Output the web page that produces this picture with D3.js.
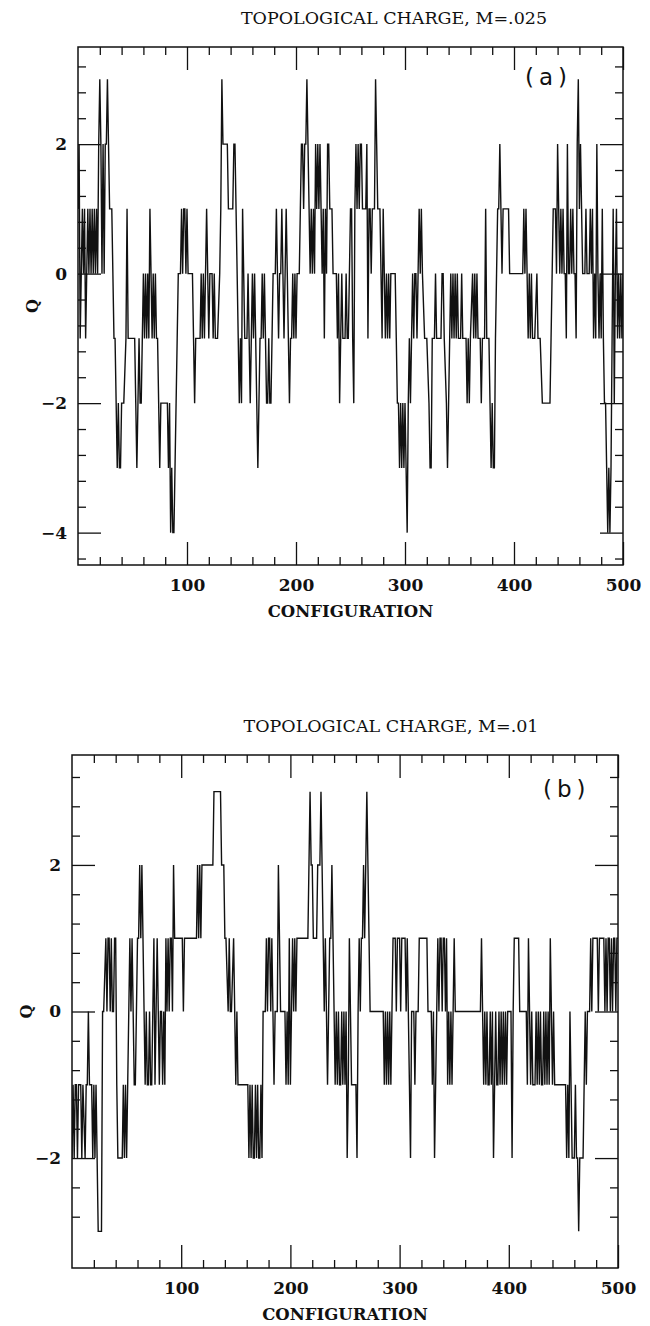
<!DOCTYPE html>
<html>
<head>
<meta charset="utf-8">
<script src="https://cdn.jsdelivr.net/npm/d3@7"></script>
<style>
  body { margin: 0; background: #fff; }
  text { fill: #111; }
</style>
</head>
<body>
<script>
const width = 650;
const height = 1326;

const titleA = "TOPOLOGICAL CHARGE, M=.025";
const titleB = "TOPOLOGICAL CHARGE, M=.01";
const xLabel = "CONFIGURATION";
const yLabel = "Q";
const xTicks = [100, 200, 300, 400, 500];
const yTicksA = [-4, -2, 0, 2];
const yTicksB = [-2, 0, 2];

// [configuration, Q]
const seriesA = [[0,1],[1,2],[2,-1],[3,0],[4,1],[5,0],[6,1],[7,-1],[8,0],[9,1],[10,0],[11,1],[12,0],[13,1],[14,0],[15,1],[16,0],[17,1],[18,0],[19,2],[20,3],[21,2],[22,0],[23,2],[24,0],[25,2],[26,2],[27,3],[28,2],[29,1],[31,1],[33,-1],[34,-1],[36,-3],[37,-2],[38,-3],[39,-3],[40,-2],[42,-2],[44,-1],[45,1],[46,-1],[52,-1],[53,-2],[54,-3],[55,-2],[56,-1],[57,-2],[58,-2],[59,-1],[60,0],[61,-1],[62,0],[63,-1],[64,0],[65,-1],[66,1],[67,0],[68,-1],[69,0],[70,-1],[71,0],[72,-1],[73,-1],[75,-3],[76,-2],[82,-2],[83,-3],[84,-2],[85,-4],[86,-3],[87,-4],[88,-4],[89,-3],[91,-1],[92,0],[94,0],[95,1],[96,0],[97,1],[98,1],[99,0],[100,1],[101,0],[105,0],[106,-1],[107,-2],[108,-1],[112,-1],[113,0],[114,-1],[115,0],[116,-1],[117,0],[118,1],[119,0],[120,-1],[121,0],[123,0],[124,-1],[125,0],[126,-1],[128,-1],[130,0],[131,1],[132,3],[133,2],[137,2],[138,1],[142,1],[143,2],[144,2],[145,1],[146,0],[147,-1],[148,-2],[149,-1],[150,-2],[151,1],[152,0],[153,-1],[155,-1],[156,0],[157,-1],[158,-2],[159,-1],[160,0],[161,-1],[162,0],[163,-1],[164,-2],[165,-3],[166,-2],[167,-1],[168,-1],[169,0],[170,-1],[171,0],[172,-1],[173,-2],[174,-2],[175,-1],[176,-2],[177,-2],[178,-1],[179,0],[181,0],[182,1],[183,0],[184,-1],[185,0],[186,0],[187,1],[188,0],[189,-1],[190,0],[191,1],[192,0],[193,-1],[194,-2],[195,-1],[196,-1],[197,0],[198,-1],[199,0],[200,-1],[201,0],[203,0],[204,1],[205,2],[206,2],[207,1],[208,2],[209,2],[210,3],[211,2],[212,1],[213,0],[214,1],[215,0],[216,1],[217,0],[218,2],[219,1],[220,2],[221,1],[222,2],[223,1],[224,0],[225,1],[226,-1],[227,1],[228,0],[229,2],[230,2],[231,1],[233,1],[234,0],[237,0],[238,-1],[239,0],[240,-2],[241,-1],[242,0],[243,-1],[245,-1],[246,0],[247,-1],[248,-1],[249,0],[250,1],[251,1],[252,-1],[253,-2],[254,1],[255,2],[256,1],[257,2],[258,1],[259,2],[260,2],[261,1],[262,1],[264,1],[265,2],[266,-1],[267,1],[268,1],[269,0],[270,1],[272,1],[273,3],[274,2],[275,1],[277,1],[278,0],[279,-1],[280,1],[281,0],[282,-1],[283,0],[284,-1],[285,0],[286,-1],[287,0],[291,0],[292,-1],[293,-2],[294,-2],[295,-3],[296,-2],[297,-3],[298,-2],[299,-3],[300,-2],[301,-3],[302,-4],[303,-2],[304,-1],[305,-2],[306,-1],[307,0],[308,-1],[309,0],[310,0],[311,-1],[312,0],[313,1],[314,0],[315,1],[316,0],[318,-1],[320,-1],[322,-2],[323,-3],[324,-3],[325,-1],[327,-1],[328,0],[329,-1],[333,-1],[334,0],[335,0],[336,-1],[338,-2],[339,-3],[340,-2],[341,-1],[342,0],[343,-1],[344,0],[345,-1],[346,0],[347,-1],[348,0],[349,-1],[351,-1],[352,0],[353,-1],[356,-1],[357,-2],[358,-1],[359,-2],[360,-1],[362,0],[363,-1],[364,0],[365,-1],[366,0],[367,-1],[369,-1],[370,-2],[371,-1],[373,-1],[374,1],[375,-1],[377,-1],[378,-2],[379,-3],[380,-2],[381,-3],[382,-3],[383,-1],[384,0],[385,1],[386,1],[387,2],[388,1],[389,0],[390,1],[391,1],[393,1],[395,1],[396,0],[408,0],[409,1],[410,0],[411,1],[412,0],[413,-1],[414,0],[415,-1],[416,0],[417,-1],[419,-1],[421,0],[422,-1],[424,-1],[426,-2],[433,-2],[434,-1],[435,0],[436,1],[438,1],[439,0],[440,2],[441,1],[442,0],[443,1],[444,0],[445,1],[446,0],[447,0],[448,-1],[449,2],[450,0],[451,0],[452,1],[453,0],[454,1],[455,0],[456,0],[457,-1],[458,2],[459,3],[460,1],[461,2],[462,1],[463,0],[465,0],[466,1],[467,0],[469,0],[470,1],[471,0],[472,1],[473,-1],[474,0],[475,-1],[476,2],[477,0],[478,-1],[479,0],[480,-1],[481,1],[482,-1],[483,-2],[484,-2],[485,-3],[486,-4],[487,-3],[488,-4],[489,-3],[490,-1],[491,1],[492,-2],[493,0],[494,1],[495,-1],[496,0],[497,-1],[498,0],[499,-1],[500,0]];

const seriesB = [[0,-2],[1,-1],[2,-2],[3,-1],[4,-1],[5,-2],[6,-1],[8,-1],[9,-2],[10,-1],[12,-2],[13,-1],[14,-1],[15,0],[16,-1],[18,-1],[19,-2],[20,-1],[21,-2],[22,-1],[24,-3],[27,-3],[28,0],[29,0],[31,1],[32,0],[33,1],[34,1],[35,0],[36,1],[37,0],[38,0],[39,1],[40,1],[41,-1],[42,-2],[46,-2],[47,-1],[48,-2],[49,-1],[50,-2],[51,-1],[52,0],[53,1],[54,0],[55,1],[56,0],[57,-1],[58,-1],[59,0],[60,1],[61,1],[62,2],[63,1],[64,2],[65,1],[66,0],[67,-1],[68,0],[69,-1],[70,-1],[71,0],[72,-1],[73,-1],[74,0],[75,1],[76,-1],[77,0],[78,1],[79,0],[80,-1],[81,0],[82,0],[83,-1],[84,0],[85,-1],[86,1],[87,0],[88,1],[89,0],[90,1],[91,1],[92,0],[93,2],[94,1],[101,1],[102,0],[103,1],[114,1],[115,2],[116,1],[117,2],[118,1],[119,2],[120,2],[129,2],[130,3],[136,3],[137,2],[139,2],[140,1],[141,1],[143,0],[144,1],[145,0],[146,0],[148,1],[149,0],[150,-1],[151,0],[152,-1],[154,-1],[161,-1],[162,-2],[163,-1],[164,-2],[165,-1],[166,-2],[167,-2],[168,-1],[169,-2],[170,-1],[171,-2],[172,-2],[173,-1],[174,-2],[175,0],[177,0],[178,1],[179,0],[180,1],[181,1],[182,0],[183,1],[184,0],[185,-1],[186,0],[188,0],[189,2],[190,1],[191,0],[195,0],[196,-1],[197,0],[198,-1],[199,1],[200,-1],[201,0],[202,1],[203,0],[204,1],[205,0],[206,1],[207,1],[216,1],[217,2],[218,3],[219,2],[220,2],[221,1],[224,1],[225,2],[226,2],[227,2],[228,3],[229,2],[230,1],[231,0],[232,1],[233,0],[234,-1],[235,0],[236,1],[237,1],[238,2],[239,1],[240,0],[241,-1],[242,0],[243,-1],[244,0],[245,-1],[246,-1],[247,0],[248,-1],[249,0],[250,-1],[251,0],[252,-2],[253,-1],[254,1],[255,0],[256,-1],[260,-1],[261,-2],[262,0],[263,1],[264,0],[265,1],[266,1],[267,2],[268,1],[269,2],[270,3],[271,2],[272,1],[273,0],[285,0],[286,-1],[287,0],[288,-1],[289,0],[290,-1],[291,0],[292,-1],[293,0],[294,1],[296,1],[297,0],[298,1],[300,1],[301,0],[302,1],[305,1],[306,0],[307,1],[308,0],[309,-1],[310,-2],[311,0],[313,0],[314,-1],[315,0],[317,0],[318,1],[325,1],[326,0],[329,0],[330,-1],[331,0],[332,-2],[333,-1],[334,0],[335,1],[336,0],[337,1],[338,1],[339,0],[340,1],[341,1],[342,0],[343,1],[344,-1],[345,0],[346,-1],[347,0],[348,-1],[349,0],[350,1],[351,0],[374,0],[375,1],[376,0],[377,-1],[378,0],[379,-1],[380,0],[381,-1],[382,-1],[383,0],[384,-1],[385,0],[386,-2],[387,-1],[388,0],[389,-1],[390,-1],[391,0],[392,-1],[393,0],[394,-1],[395,0],[396,-1],[397,0],[398,-1],[399,0],[402,0],[403,-2],[404,0],[405,1],[406,1],[409,1],[410,0],[416,0],[417,-1],[418,1],[419,0],[420,-1],[421,0],[422,-1],[424,-1],[425,0],[426,-1],[427,0],[428,-1],[429,0],[430,-1],[431,-1],[432,0],[433,-1],[434,0],[435,-1],[436,0],[437,-1],[438,1],[439,0],[440,-1],[441,0],[442,-1],[444,-1],[452,-1],[453,-2],[454,-1],[455,-2],[456,0],[457,-1],[458,-2],[460,-2],[461,-1],[462,-2],[463,-2],[464,-3],[465,-2],[467,-2],[468,-2],[469,-1],[470,0],[471,-1],[472,0],[474,0],[475,1],[476,0],[477,1],[481,1],[482,0],[483,1],[487,1],[488,0],[489,1],[490,0],[491,1],[492,1],[493,0],[494,1],[495,0],[496,1],[497,1],[498,0],[499,1],[500,1]];

var svg = d3.select("body").append("svg").attr("width", width).attr("height", height);

function drawPanel(opts) {
    var x = d3.scaleLinear().domain([0, 500]).range([opts.left, opts.right]);
    var y = d3.scaleLinear().domain(opts.yDomain).range([opts.bottom, opts.top]);
    var g = svg.append("g");

    var clipId = "clip" + opts.id;
    svg.append("clipPath").attr("id", clipId)
      .append("rect").attr("x", opts.left).attr("y", opts.top)
      .attr("width", opts.right - opts.left).attr("height", opts.bottom - opts.top);

    var line = d3.line().x(function(d){ return x(d[0]); }).y(function(d){ return y(d[1]); });
    g.append("path").datum(opts.data)
      .attr("clip-path", "url(#" + clipId + ")")
      .attr("d", line)
      .attr("fill", "none").attr("stroke", "#111").attr("stroke-width", 1.4)
      .attr("stroke-linejoin", "miter");

    // minor ticks: every 20 on x, every 0.4 on y
    var xMinor = d3.range(20, 500, 20).filter(function(v){ return v % 100 !== 0; });
    var yMinor = [];
    opts.yMajor.forEach(function(m){
      [-0.8, -0.4, 0.4, 0.8, 1.2, 1.6].forEach(function(o){
        var v = +(m + o).toFixed(1);
        if (v > opts.yDomain[0] && v < opts.yDomain[1] && yMinor.indexOf(v) < 0 && opts.yMajor.indexOf(v) < 0) yMinor.push(v);
      });
    });

    function styleAxis(sel) {
      sel.select(".domain").remove();
      sel.selectAll(".tick line").attr("stroke", "#111").attr("stroke-width", 1.3);
      sel.selectAll(".tick text").attr("font-family", "'DejaVu Serif', serif")
        .attr("font-weight", "bold").attr("font-size", 17).attr("fill", "#111");
    }

    // bottom
    g.append("g").attr("transform", "translate(0," + opts.bottom + ")")
      .call(d3.axisBottom(x).tickValues(xTicks).tickSize(-23).tickPadding(14).tickFormat(d3.format("d")))
      .call(styleAxis);
    g.append("g").attr("transform", "translate(0," + opts.bottom + ")")
      .call(d3.axisBottom(x).tickValues(xMinor).tickSize(-8).tickFormat(""))
      .call(styleAxis);
    // top
    g.append("g").attr("transform", "translate(0," + opts.top + ")")
      .call(d3.axisTop(x).tickValues(xTicks).tickSize(-23).tickFormat(""))
      .call(styleAxis);
    g.append("g").attr("transform", "translate(0," + opts.top + ")")
      .call(d3.axisTop(x).tickValues(xMinor).tickSize(-8).tickFormat(""))
      .call(styleAxis);
    // left
    g.append("g").attr("transform", "translate(" + opts.left + ",0)")
      .call(d3.axisLeft(y).tickValues(opts.yMajor).tickSize(-23).tickPadding(11).tickFormat(d3.format("d")))
      .call(styleAxis);
    g.append("g").attr("transform", "translate(" + opts.left + ",0)")
      .call(d3.axisLeft(y).tickValues(yMinor).tickSize(-8).tickFormat(""))
      .call(styleAxis);
    // right
    g.append("g").attr("transform", "translate(" + opts.right + ",0)")
      .call(d3.axisRight(y).tickValues(opts.yMajor).tickSize(-23).tickFormat(""))
      .call(styleAxis);
    g.append("g").attr("transform", "translate(" + opts.right + ",0)")
      .call(d3.axisRight(y).tickValues(yMinor).tickSize(-8).tickFormat(""))
      .call(styleAxis);

    // frame
    g.append("rect").attr("x", opts.left).attr("y", opts.top)
      .attr("width", opts.right - opts.left).attr("height", opts.bottom - opts.top)
      .attr("fill", "none").attr("stroke", "#111").attr("stroke-width", 1.5);

    // texts
    g.append("text").attr("x", opts.titleX).attr("y", opts.top - 23)
      .attr("text-anchor", "middle").attr("font-family", "'DejaVu Serif', serif")
      .attr("font-size", 17.5).text(opts.title);
    g.append("text").attr("x", (opts.left + opts.right) / 2).attr("y", opts.bottom + 52)
      .attr("text-anchor", "middle").attr("font-family", "'DejaVu Serif', serif")
      .attr("font-weight", "bold").attr("font-size", 16.5).text(xLabel);
    g.append("text").attr("transform", "translate(" + (opts.left - 40) + "," + ((opts.top + opts.bottom) / 2) + ") rotate(-90)")
      .attr("text-anchor", "middle").attr("font-family", "'DejaVu Serif', serif")
      .attr("font-weight", "bold").attr("font-size", 16).text(yLabel);
    g.append("text").attr("x", opts.tagX).attr("y", opts.tagY)
      .attr("font-family", "'DejaVu Sans', sans-serif")
      .attr("font-size", 23).attr("letter-spacing", 5).text(opts.tag);
}

drawPanel({ id: "a", tag: "(a)", title: titleA, data: seriesA, left: 78, right: 623, top: 47, bottom: 565,
            yDomain: [-4.5, 3.5], yMajor: yTicksA, tagX: 525, tagY: 85, titleX: 394 });
drawPanel({ id: "b", tag: "(b)", title: titleB, data: seriesB, left: 72, right: 618, top: 755, bottom: 1268,
            yDomain: [-3.5, 3.5], yMajor: yTicksB, tagX: 543, tagY: 797, titleX: 391 });
</script>
</body>
</html>
